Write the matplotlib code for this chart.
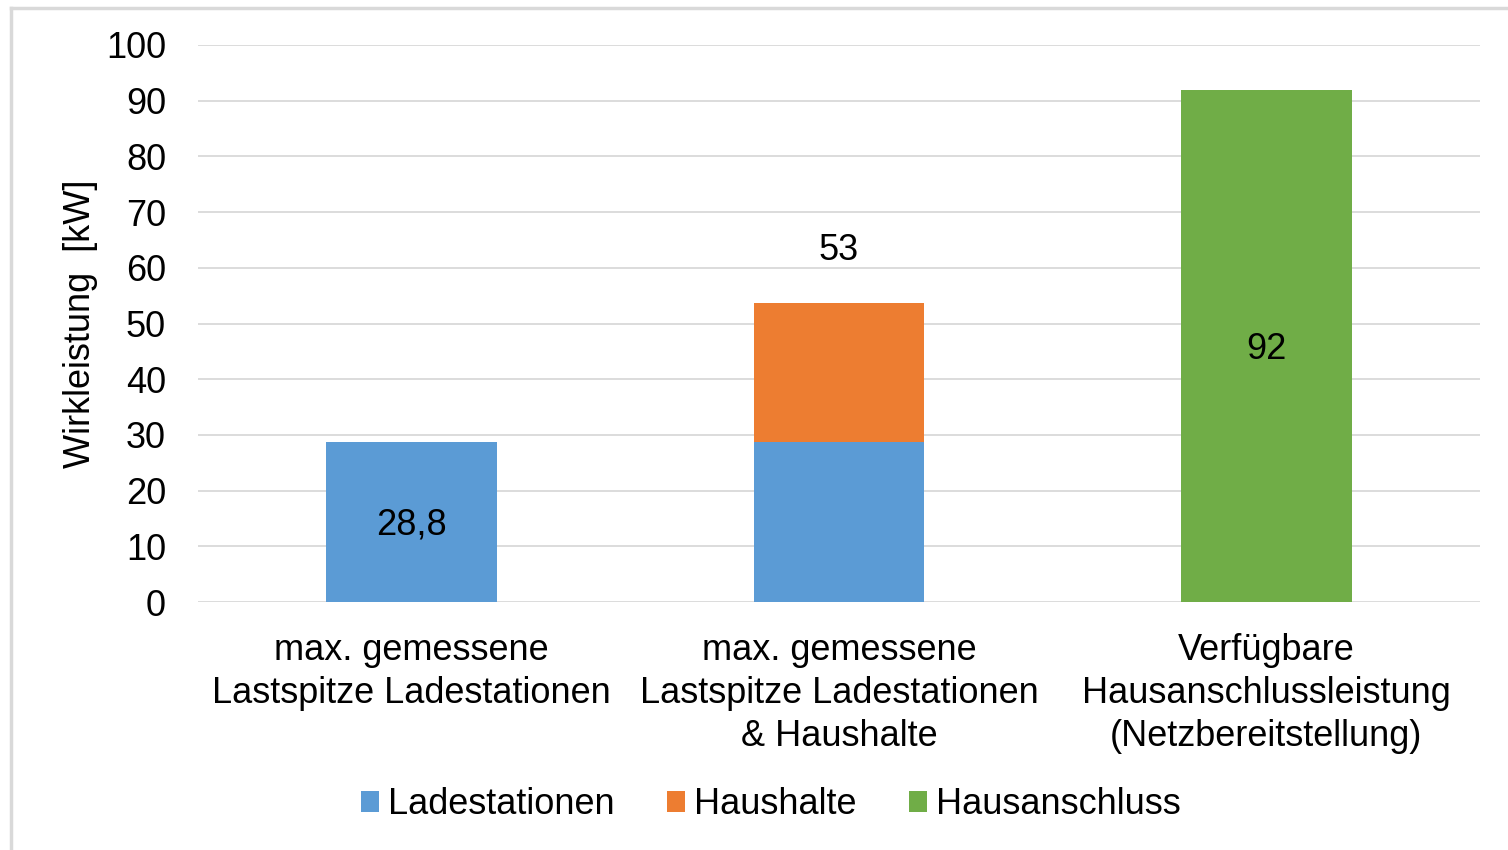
import matplotlib.pyplot as plt
from matplotlib.lines import Line2D

plt.rcParams['font.family'] = ['Liberation Sans', 'DejaVu Sans']

categories = ['max. gemessene\nLastspitze Ladestationen',
              'max. gemessene\nLastspitze Ladestationen\n& Haushalte',
              'Verfügbare\nHausanschlussleistung\n(Netzbereitstellung)']
ladestationen = [28.8, 28.8, 0]
haushalte = [0, 24.9, 0]
hausanschluss = [0, 0, 92]
series_names = ['Ladestationen', 'Haushalte', 'Hausanschluss']
colors = ['#5B9BD5', '#ED7D31', '#70AD47']
yticks = list(range(0, 101, 10))

fs = 26

fig = plt.figure(figsize=(15.08, 8.5), dpi=100)
ax = fig.add_axes([198 / 1508, 1 - 602 / 850, (1480 - 198) / 1508, (602 - 45) / 850])

x = range(len(categories))
w = 0.4
ax.bar(x, ladestationen, w, color=colors[0], label=series_names[0], zorder=3)
ax.bar(x, haushalte, w, bottom=ladestationen, color=colors[1], label=series_names[1], zorder=3)
ax.bar(x, hausanschluss, w, color=colors[2], label=series_names[2], zorder=3)

# data labels
ax.annotate('28,8', (0, ladestationen[0] / 2), xytext=(0, -2.5), textcoords='offset points',
            ha='center', va='center', fontsize=fs)
total = ladestationen[1] + haushalte[1]
ax.annotate('53', (1, total), xytext=(0, 38), textcoords='offset points',
            ha='center', va='center', fontsize=fs)
ax.annotate('92', (2, hausanschluss[2] / 2), xytext=(0, -2.5), textcoords='offset points',
            ha='center', va='center', fontsize=fs)

ax.set_xlim(-0.5, 2.5)
ax.set_ylim(0, 100)
ax.set_yticks(yticks)
ax.set_xticks(list(x))
ax.set_xticklabels(categories, fontsize=fs, linespacing=1.3)
ax.tick_params(axis='y', length=0, pad=23, labelsize=fs)
ax.tick_params(axis='x', length=0, pad=22)
ax.grid(axis='y', color='#d9d9d9', linewidth=1.3, zorder=0)
for s in ax.spines.values():
    s.set_visible(False)
ax.set_ylabel('Wirkleistung  [kW]', fontsize=fs, labelpad=6)

fig.legend(loc='center', bbox_to_anchor=(0.511, 0.053), ncol=3, frameon=False,
           fontsize=fs, handlelength=0.5, handleheight=0.5, handletextpad=0.25,
           columnspacing=1.45)

# outer chart border (cropped at right and bottom)
fig.add_artist(Line2D([11 / 1508, 1], [1 - 8 / 850, 1 - 8 / 850], color='#d9d9d9', linewidth=2.5,
                      transform=fig.transFigure))
fig.add_artist(Line2D([11 / 1508, 11 / 1508], [0, 1 - 8 / 850], color='#d9d9d9', linewidth=2.5,
                      transform=fig.transFigure))

fig.savefig('out.png', dpi=100)
